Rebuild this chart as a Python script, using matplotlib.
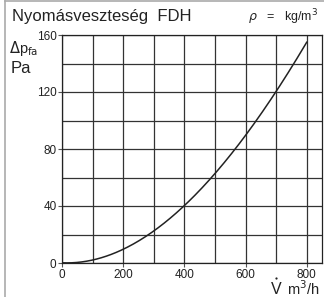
import matplotlib
matplotlib.use("Agg")
import matplotlib.pyplot as plt
from matplotlib.lines import Line2D
import numpy as np

flow = [0, 100, 200, 300, 400, 500, 600, 700, 800]
dp = [0, 2.3, 10, 22, 40, 63, 90, 120, 155]
xticks = [0, 200, 400, 600, 800]
yticks = [0, 40, 80, 120, 160]

plt.rcParams['font.family'] = ['Liberation Sans', 'DejaVu Sans']
fig = plt.figure(figsize=(3.24, 2.97), dpi=100)
W, H = 324, 297
ax = fig.add_axes([62/W, 1-263/H, 260/W, 228/H])

xs = np.linspace(0, 800, 200)
coef = np.polyfit(flow, dp, 3)
ys = np.polyval(coef, xs)
ys[ys < 0] = 0
ax.plot(xs, ys, color='#222222', lw=1.1, zorder=3)

ax.set_xlim(0, 850)
ax.set_ylim(0, 160)
ax.set_xticks(range(0, 900, 100))
ax.set_yticks(range(0, 161, 20))
ax.grid(True, color='#333333', lw=0.9)
ax.set_xticklabels([str(v) if v in xticks else '' for v in range(0, 900, 100)], fontsize=8.5, color='#222222')
ax.set_yticklabels([str(v) if v in yticks else '' for v in range(0, 161, 20)], fontsize=8.5, color='#222222')
for t, v in zip(ax.xaxis.get_major_ticks(), range(0, 900, 100)):
    if v not in xticks:
        t.tick1line.set_visible(False)
for t, v in zip(ax.yaxis.get_major_ticks(), range(0, 161, 20)):
    if v not in yticks:
        t.tick1line.set_visible(False)
ax.tick_params(length=3, width=0.8, color='#555555', pad=1)
for s in ax.spines.values():
    s.set_color('#222222')
    s.set_linewidth(0.9)

c = '#222222'
fig.text(12/W, 1-17/H, 'Nyomásveszteség  FDH', fontsize=12, va='center', ha='left', color=c)
fig.text(318/W, 1-17/H, r'$\rho$   =   kg/m$^3$', fontsize=9, va='center', ha='right', color=c)
fig.text(9/W, 1-48/H, r'$\Delta$p$_{\mathrm{fa}}$', fontsize=10.5, va='center', ha='left', color=c)
fig.text(11/W, 1-69/H, 'Pa', fontsize=12, va='center', ha='left', color=c)
fig.text(320/W, 1-289/H, 'm$^3$/h', fontsize=10.5, va='center', ha='right', color=c)
fig.text(276/W, 1-289/H, 'V', fontsize=11.5, va='center', ha='center', color=c)
fig.add_artist(Line2D([276/W], [1-278/H], transform=fig.transFigure, marker='o',
                      markersize=1.6, color=c, markeredgewidth=0))

fig.add_artist(Line2D([5/W, 5/W], [0, 1-1/H], transform=fig.transFigure, color='#aaaaaa', lw=1.2))
fig.add_artist(Line2D([5/W, 1], [1-1/H, 1-1/H], transform=fig.transFigure, color='#aaaaaa', lw=1.2))

fig.savefig('out.png', dpi=100)
